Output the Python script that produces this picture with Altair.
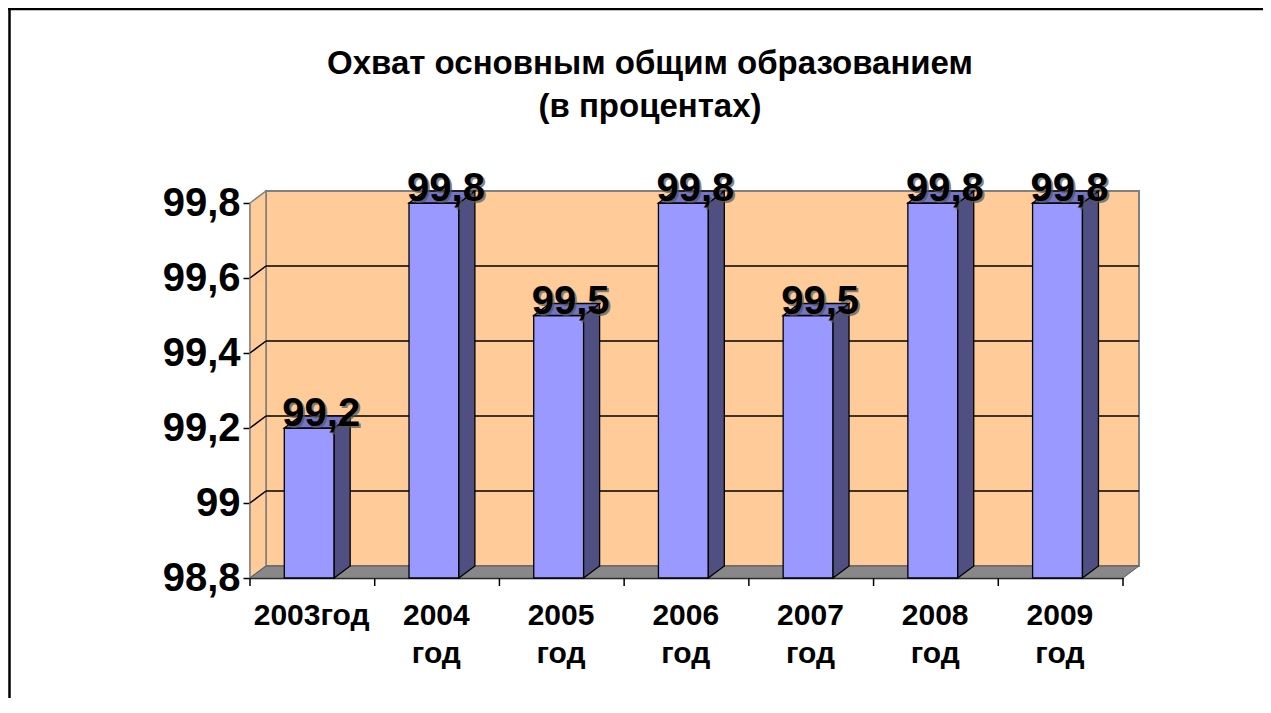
import altair as alt
import pandas as pd

# ---- data ----
years = ["2003", "2004", "2005", "2006", "2007", "2008", "2009"]
tick_labels = ["2003год", "2004|год", "2005|год", "2006|год", "2007|год", "2008|год", "2009|год"]
values = [99.2, 99.8, 99.5, 99.8, 99.5, 99.8, 99.8]
y_ticks = [98.8, 99.0, 99.2, 99.4, 99.6, 99.8]
title_lines = ["Охват основным общим образованием", "(в процентах)"]

# ---- geometry / style ----
W, H = 873, 375
Y0, Y1 = 98.8, 99.8
NCAT = len(years)
DEPTH_X_PX, DEPTH_Y_PX = 16, 12
TICK_PX = 8
dx = DEPTH_X_PX * NCAT / W
dy = DEPTH_Y_PX * (Y1 - Y0) / H
tick_len = TICK_PX * (Y1 - Y0) / H
BAR_START, BAR_END = 0.275, 0.675
LABEL_POS = 0.49
FONT = "Liberation Sans"

FRONT = "#9999FF"
SIDE = "#4F4F82"
TOP = "#7575C8"
WALL = "#FFCC99"
FLOOR = "#888888"
EDGE = "#808080"

# ---- tables built from the arrays ----
bars = pd.DataFrame({
    "cat": list(range(NCAT)),
    "year": years,
    "value": values,
})
bars["xl"] = bars["cat"] + BAR_START
bars["xr"] = bars["cat"] + BAR_END
bars["xc"] = (bars["xl"] + bars["xr"]) / 2
bars["base"] = Y0
bars["label"] = bars["value"].map(lambda v: f"{v:.1f}".replace(".", ","))

side_rows, top_rows = [], []
for _, r in bars.iterrows():
    side_rows.append({"year": r.year, "x": r.xr, "y": Y0, "y2": r.value})
    side_rows.append({"year": r.year, "x": r.xr + dx, "y": Y0 + dy, "y2": r.value + dy})
    top_rows.append({"year": r.year, "y": r.value, "xa": r.xl, "xb": r.xr})
    top_rows.append({"year": r.year, "y": r.value + dy, "xa": r.xl + dx, "xb": r.xr + dx})
side = pd.DataFrame(side_rows)
top = pd.DataFrame(top_rows)

wall = pd.DataFrame({"x": [dx], "x2": [NCAT + dx], "y": [Y0 + dy], "y2": [Y1 + dy]})
sidewall = pd.DataFrame({"x": [0, dx], "y": [Y0, Y0 + dy], "y2": [Y1, Y1 + dy]})
floor = pd.DataFrame({"y": [Y0, Y0 + dy], "xa": [0, dx], "xb": [NCAT, NCAT + dx]})
grid = pd.DataFrame({"t": y_ticks[1:-1]})
grid["tb"] = grid["t"] + dy
grid["x0"] = 0.0
grid["x1"] = dx
grid["x2"] = NCAT + dx
xticks = pd.DataFrame({"b": list(range(NCAT + 1))})
xticks["y"] = Y0
xticks["y2"] = Y0 - tick_len
one = pd.DataFrame({"a": [0]})

# ---- scales / axes ----
sx = alt.Scale(domain=[0, NCAT], nice=False, zero=False)
sy = alt.Scale(domain=[Y0, Y1], nice=False, zero=False)

label_src = ";".join(tick_labels)
xaxis = alt.Axis(
    values=[i + LABEL_POS for i in range(NCAT)],
    labelExpr=f"split(split('{label_src}', ';')[floor(datum.value)], '|')",
    domainColor="black", domainWidth=1.5, ticks=False,
    labelFont=FONT, labelFontSize=30, labelFontWeight="bold", labelColor="black",
    labelAlign="center", labelBaseline="top", labelPadding=22,
    labelLineHeight=38, labelFlush=False, labelOverlap=False, grid=False, title=None,
)
yaxis = alt.Axis(
    values=y_ticks,
    labelExpr="replace(format(datum.value, '~g'), '.', ',')",
    domainColor="black", domainWidth=1.5, tickColor="black", tickSize=7, tickWidth=1.5,
    labelFont=FONT, labelFontSize=40, labelFontWeight="bold", labelColor="black",
    labelPadding=3, labelFlush=False, labelOverlap=False, grid=False, title=None,
)


def X(f):
    return alt.X(f"{f}:Q", scale=sx, axis=xaxis, title=None)


def Y(f):
    return alt.Y(f"{f}:Q", scale=sy, axis=yaxis, title=None, stack=None)


# ---- layers ----
back = alt.Chart(wall).mark_rect(fill=WALL, stroke=EDGE, strokeWidth=2).encode(
    x=X("x"), x2="x2", y=Y("y"), y2="y2")

leftwall = alt.Chart(sidewall).mark_area(fill=WALL, stroke=EDGE, strokeWidth=1.5, opacity=1).encode(
    x=X("x"), y=Y("y"), y2="y2")

floor_l = alt.Chart(floor).mark_area(orient="horizontal", fill=FLOOR, stroke="#5a5a5a",
                                     strokeWidth=1, opacity=1).encode(
    y=Y("y"), x=X("xa"), x2="xb")

grid_back = alt.Chart(grid).mark_rule(color="black", strokeWidth=1.5).encode(
    x=X("x1"), x2="x2", y=Y("tb"))

grid_side = alt.Chart(grid).mark_rule(color="black", strokeWidth=1.5).encode(
    x=X("x0"), x2="x1", y=Y("t"), y2="tb")

xtick_l = alt.Chart(xticks).mark_rule(color="black", strokeWidth=1.5).encode(
    x=X("b"), y=Y("y"), y2="y2")

front = alt.Chart(bars).mark_rect(fill=FRONT, stroke="black", strokeWidth=1.3).encode(
    x=X("xl"), x2="xr", y=Y("base"), y2="value")

side_l = alt.Chart(side).mark_area(fill=SIDE, stroke="black", strokeWidth=1.3, opacity=1).encode(
    x=X("x"), y=Y("y"), y2="y2", detail="year:N")

top_l = alt.Chart(top).mark_area(orient="horizontal", fill=TOP, stroke="black",
                                 strokeWidth=1.3, opacity=1).encode(
    y=Y("y"), x=X("xa"), x2="xb", detail="year:N")

shadow = alt.Chart(bars).mark_text(
    font=FONT, fontSize=40, fontWeight="bold", color="#555555", opacity=0.7,
    baseline="alphabetic", align="center", dx=14, dy=0).encode(
    x=X("xc"), y=Y("value"), text="label:N")

labels = alt.Chart(bars).mark_text(
    font=FONT, fontSize=40, fontWeight="bold", color="black",
    baseline="alphabetic", align="center", dx=12, dy=-2).encode(
    x=X("xc"), y=Y("value"), text="label:N")

title_l = alt.Chart(one).mark_text(
    font=FONT, fontSize=33, fontWeight="bold", color="black",
    align="center", baseline="middle", lineHeight=43).encode(
    x=alt.value(400), y=alt.value(-139), text=alt.value(title_lines))

frame_left = alt.Chart(one).mark_rule(color="black", strokeWidth=2.5).encode(
    x=alt.value(-240.5), y=alt.value(-194), y2=alt.value(520))
frame_top = alt.Chart(one).mark_rule(color="black", strokeWidth=2.5).encode(
    x=alt.value(-242), x2=alt.value(1030), y=alt.value(-194))

chart = alt.layer(
    back, leftwall, floor_l, grid_back, grid_side, xtick_l, front, side_l, top_l,
    shadow, labels, title_l, frame_left, frame_top,
).properties(
    width=W, height=H,
    padding={"left": 242, "top": 195, "right": 140, "bottom": 120},
    autosize=alt.AutoSizeParams(type="none"),
    background="white",
).configure_view(stroke=None)

chart.save("out.html", embed_options={"renderer": "svg", "actions": False})
